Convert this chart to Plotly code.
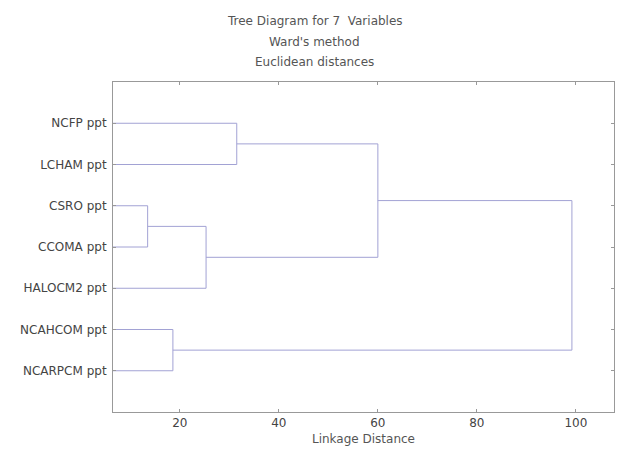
import plotly.graph_objects as go

# leaves, top to bottom
labels = ["NCFP ppt", "LCHAM ppt", "CSRO ppt", "CCOMA ppt",
          "HALOCM2 ppt", "NCAHCOM ppt", "NCARPCM ppt"]

# Ward linkage: (left child, right child, distance)
# ids 0-6 are leaves, 7.. are the clusters made in this order
merge_a = [0, 2, 8, 5, 7, 11]
merge_b = [1, 3, 4, 6, 9, 10]
merge_h = [31.5, 13.5, 25.3, 18.6, 60.0, 99.2]

x_ticks = [20, 40, 60, 80, 100]
x_min, x_max = 6.5, 107.7

title_lines = ["Tree Diagram for 7  Variables", "Ward's method", "Euclidean distances"]


def dendro_segments(n_leaves):
    # node position = (distance, y) ; leaves start at the left edge of the axis
    pos = {i: (x_min, i + 1) for i in range(n_leaves)}
    xs, ys = [], []
    for k, (a, b, h) in enumerate(zip(merge_a, merge_b, merge_h)):
        xa, ya = pos[a]
        xb, yb = pos[b]
        xs += [xa, h, h, xb, None]
        ys += [ya, ya, yb, yb, None]
        pos[n_leaves + k] = (h, (ya + yb) / 2)
    return xs, ys


xs, ys = dendro_segments(len(labels))

fig = go.Figure()
fig.add_trace(go.Scatter(x=xs, y=ys, mode="lines",
                         line=dict(color="#a2a2d4", width=1),
                         hoverinfo="skip", showlegend=False))

# title block is centred on the page, not on the plot area
for i, t in enumerate(title_lines):
    fig.add_annotation(text=t, xref="paper", yref="paper", x=0.403, y=1,
                       xanchor="center", yanchor="bottom", showarrow=False,
                       yshift=52 - 20.5 * i,
                       font=dict(size=12, color="#555"))

fig.update_layout(
    width=630, height=469,
    margin=dict(l=113, r=16, t=82, b=57),
    paper_bgcolor="white", plot_bgcolor="white",
    font=dict(family="DejaVu Sans, Liberation Sans", size=12, color="#444"),
    xaxis=dict(range=[x_min, x_max], tickvals=x_ticks, showgrid=False,
               zeroline=False, showline=True, linecolor="#999", linewidth=1,
               mirror="ticks", ticks="inside", ticklen=3, tickcolor="#999",
               title=dict(text="Linkage Distance", standoff=5,
                          font=dict(size=12, color="#555"))),
    yaxis=dict(range=[8, 0], tickvals=list(range(1, len(labels) + 1)),
               ticktext=labels, showgrid=False, zeroline=False,
               showline=True, linecolor="#999", linewidth=1, mirror="ticks",
               ticks="inside", ticklen=3, tickcolor="#999",
               ticklabelstandoff=3),
)

# the page body has a default 8px margin; drop it so the chart sits at 0,0
fig.write_html("out.html", config={"displayModeBar": False},
               post_script="document.body.style.margin='0';")
